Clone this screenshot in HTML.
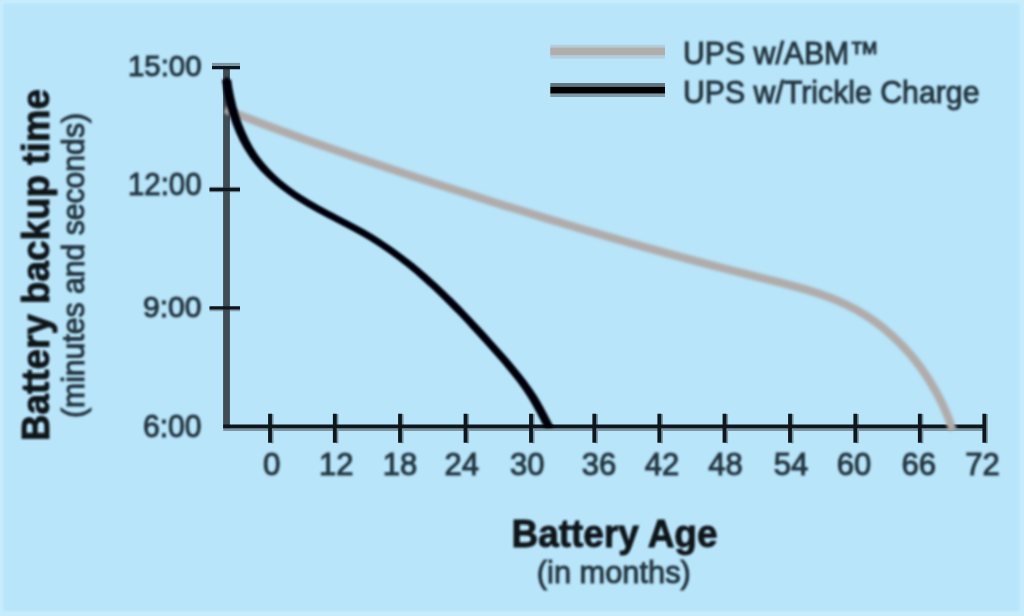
<!DOCTYPE html>
<html lang="en">
<head>
<meta charset="utf-8">
<title>Battery backup time vs Battery Age</title>
<style>
  html, body { margin: 0; padding: 0; background: #b8e5fa; }
  body { width: 1024px; height: 616px; overflow: hidden; position: relative; }
  svg { display: block; position: absolute; left: 0; top: 0; }
  text { font-family: "Liberation Sans", Arial, Helvetica, sans-serif; }
  .lbl { font-size: 32px; fill: #25353f; stroke: #25353f; stroke-width: 1px; }
  .bold { font-weight: bold; font-size: 38px; fill: #0d1216; stroke: #0d1216; stroke-width: 0.8px; }
</style>
</head>
<body>
<svg width="1024" height="616" viewBox="0 0 1024 616">
  <defs>
    <filter id="soft" x="-5%" y="-5%" width="110%" height="110%">
      <feGaussianBlur stdDeviation="1"/>
    </filter>
    <filter id="softer" x="-5%" y="-5%" width="110%" height="110%">
      <feGaussianBlur stdDeviation="1.7"/>
    </filter>
    <clipPath id="plot"><rect x="200" y="60" width="800" height="367.5"/></clipPath>
    <filter id="edge" x="-2%" y="-2%" width="104%" height="104%">
      <feGaussianBlur stdDeviation="1.1"/>
    </filter>
    <filter id="crisp" x="-5%" y="-5%" width="110%" height="110%">
      <feGaussianBlur stdDeviation="0.55"/>
    </filter>
  </defs>
  <rect x="0" y="0" width="1024" height="616" fill="#c7edfd"/>
  <rect x="3.4" y="3.5" width="1016.2" height="607.8" fill="#b8e5fa" filter="url(#edge)"/>
  <g filter="url(#crisp)">
    <!-- axes -->
    <g fill="none" stroke="#7d95a2">
      <path d="M223.2,429.6 H986" stroke-width="3"/>
      <path d="M212,64.4 H240" stroke-width="3"/>
      <path d="M209.5,189.5 H240" stroke-width="5.6" stroke="#8aa2af"/>
      <path d="M209.5,309.6 H240" stroke-width="3.4" stroke="#8aa2af"/>
      <path d="M272.4,414 V443.2 M337.2,414 V443.2 M402.4,414 V443.2 M467.9,414 V443.2 M533.4,414 V443.2 M596.7,414 V443.2 M661.7,414 V443.2 M726.9,414 V443.2 M792.4,414 V443.2 M857.7,414 V443.2 M922.2,414 V443.2 M986.7,414 V443.2" stroke-width="2.4" stroke="#7d95a2"/>
    </g>
    <path d="M226.5,66 V428.2" stroke="#3f4b52" stroke-width="6.8" fill="none"/>
    <g stroke="#10151a" fill="none">
      <path d="M223.2,426.4 H986" stroke-width="3.6"/>
      <path d="M212,67.6 H240 M209.5,189.5 H240 M209.5,307.9 H240" stroke-width="3.4"/>
      <path d="M270,413.8 V442.8 M334.8,413.8 V442.8 M400,413.8 V442.8 M465.5,413.8 V442.8 M531,413.8 V442.8 M594.3,413.8 V442.8 M659.3,413.8 V442.8 M724.5,413.8 V442.8 M790,413.8 V442.8 M855.3,413.8 V442.8 M919.8,413.8 V442.8 M984.3,413.8 V442.8" stroke-width="3.8"/>
    </g>
    <!-- legend swatches -->
    <rect x="550.3" y="44.8" width="114.7" height="13.8" fill="#b4cddb"/>
    <rect x="550.3" y="47.6" width="114.7" height="7.6" fill="#afaeaa"/>
    <rect x="550.3" y="83" width="114.7" height="4.3" fill="#5e7580"/>
    <rect x="550.3" y="93.2" width="114.7" height="3.8" fill="#7f9aa4"/>
    <rect x="550.3" y="86.9" width="114.7" height="6.6" fill="#020306"/>
  </g>
  <g filter="url(#softer)">
    <!-- series: UPS w/ABM -->
    <path id="abm" fill="none" stroke="#b0acaa" stroke-width="8.2" stroke-linecap="butt" stroke-linejoin="round"
      d="M225.3,109.2 C234.1,112.8 242.8,116.2 251.6,119.6 C260.4,123.0 269.2,126.4 278.0,129.6 C286.8,132.9 295.7,136.1 304.5,139.3 C313.4,142.5 322.3,145.6 331.2,148.7 C340.0,151.8 349.0,154.9 357.9,157.9 C366.8,160.9 375.7,163.9 384.7,166.9 C393.6,169.9 402.6,172.8 411.6,175.8 C420.5,178.7 429.5,181.7 438.5,184.6 C447.5,187.5 456.5,190.4 465.5,193.2 C474.5,196.1 483.5,199.0 492.5,201.8 C501.5,204.6 510.5,207.4 519.6,210.2 C528.6,213.0 537.6,215.8 546.7,218.5 C555.7,221.2 564.7,223.9 573.8,226.6 C582.8,229.3 591.9,232.0 600.9,234.6 C609.9,237.2 619.0,239.8 628.0,242.4 C637.1,245.0 646.1,247.5 655.2,250.0 C664.2,252.5 673.3,255.0 682.4,257.5 C691.5,259.9 700.6,262.3 709.7,264.7 C718.8,267.1 728.0,269.5 737.2,271.8 C746.4,274.1 755.6,276.4 764.8,278.7 C774.1,281.0 783.4,283.3 792.5,285.7 C801.7,288.2 810.8,290.9 819.7,293.9 C828.7,297.0 837.4,300.4 845.8,304.4 C854.2,308.4 862.4,313.0 870.1,318.2 C877.9,323.5 885.2,329.3 892.2,335.7 C899.2,342.0 905.7,348.9 911.8,356.2 C917.9,363.5 923.5,371.2 928.6,379.2 C933.7,387.2 938.3,395.5 942.4,404.1 C946.4,412.6 949.9,421.4 952.8,430.3"/>
  </g>
  <g filter="url(#soft)">
    <!-- series: UPS w/Trickle Charge -->
    <g fill="none" stroke="#050608" stroke-width="3.2" stroke-linecap="butt" stroke-linejoin="round" clip-path="url(#plot)">
      <path id="trickle" d="M226.6,79.6 C227.3,85.4 228.3,91.3 229.6,97.2 C230.8,103.1 232.3,109.0 234.2,114.9 C236.0,120.7 238.1,126.4 240.5,132.0 C242.9,137.6 245.6,143.0 248.7,148.2 C251.8,153.4 255.2,158.4 259.0,163.0 C262.7,167.7 266.8,172.0 271.2,176.2 C275.5,180.3 280.2,184.2 285.0,187.8 C289.8,191.5 294.8,195.0 299.9,198.2 C305.1,201.5 310.3,204.6 315.6,207.5 C320.9,210.5 326.3,213.3 331.6,216.1 C337.0,218.9 342.4,221.6 347.7,224.4 C353.1,227.2 358.4,230.1 363.6,233.1 C368.9,236.1 374.0,239.2 379.0,242.5 C384.1,245.7 389.0,249.1 393.9,252.7 C398.8,256.2 403.5,259.9 408.3,263.6 C413.0,267.4 417.6,271.3 422.2,275.2 C426.7,279.2 431.2,283.3 435.7,287.4 C440.1,291.6 444.5,295.8 448.8,300.0 C453.1,304.3 457.4,308.7 461.6,313.0 C465.8,317.4 470.0,321.8 474.1,326.3 C478.2,330.8 482.3,335.2 486.3,339.7 C490.4,344.2 494.4,348.7 498.4,353.3 C502.4,357.8 506.4,362.3 510.2,366.9 C514.1,371.5 517.8,376.1 521.4,380.9 C525.0,385.7 528.5,390.6 531.7,395.7 C535.0,400.8 537.9,406.1 540.8,411.5 C543.7,416.9 546.5,422.4 549.3,427.7"/>
      <use href="#trickle" x="-3"/><use href="#trickle" x="-1.5"/><use href="#trickle" x="1.5"/><use href="#trickle" x="3"/>
      <use href="#trickle" y="-2.1"/><use href="#trickle" y="-1.05"/><use href="#trickle" y="1.05"/><use href="#trickle" y="2.1"/>
    </g>
    <!-- legend labels -->
    <text class="lbl" x="683" y="64.4" textLength="196.5" lengthAdjust="spacingAndGlyphs">UPS w/ABM™</text>
    <text class="lbl" x="683" y="102.5" textLength="296.5" lengthAdjust="spacingAndGlyphs">UPS w/Trickle Charge</text>
    <!-- y labels -->
    <g class="lbl" text-anchor="end">
      <text x="201.6" y="76.3" font-size="30" textLength="73.7" lengthAdjust="spacingAndGlyphs">15:00</text>
      <text x="201.6" y="195" font-size="31.5" textLength="73.7" lengthAdjust="spacingAndGlyphs">12:00</text>
      <text x="201.6" y="317" font-size="30" textLength="58.7" lengthAdjust="spacingAndGlyphs">9:00</text>
      <text x="201.6" y="437.3" font-size="31.5" textLength="58.7" lengthAdjust="spacingAndGlyphs">6:00</text>
    </g>
    <!-- x labels -->
    <g class="lbl" text-anchor="middle">
      <text x="271.7" y="475" textLength="17.5" lengthAdjust="spacingAndGlyphs">0</text>
      <text x="336.2" y="475" textLength="34.5" lengthAdjust="spacingAndGlyphs">12</text>
      <text x="400" y="475" textLength="34.5" lengthAdjust="spacingAndGlyphs">18</text>
      <text x="461.8" y="475" textLength="34.5" lengthAdjust="spacingAndGlyphs">24</text>
      <text x="527.3" y="475" textLength="34.5" lengthAdjust="spacingAndGlyphs">30</text>
      <text x="599" y="475" textLength="34.5" lengthAdjust="spacingAndGlyphs">36</text>
      <text x="661.9" y="475" textLength="34.5" lengthAdjust="spacingAndGlyphs">42</text>
      <text x="725.4" y="475" textLength="34.5" lengthAdjust="spacingAndGlyphs">48</text>
      <text x="791.1" y="475" textLength="34.5" lengthAdjust="spacingAndGlyphs">54</text>
      <text x="854" y="475" textLength="34.5" lengthAdjust="spacingAndGlyphs">60</text>
      <text x="918.7" y="475" textLength="34.5" lengthAdjust="spacingAndGlyphs">66</text>
      <text x="982.4" y="475" textLength="34.5" lengthAdjust="spacingAndGlyphs">72</text>
    </g>
    <!-- axis titles -->
    <text class="bold" x="614.5" y="547" text-anchor="middle" textLength="206" lengthAdjust="spacingAndGlyphs">Battery Age</text>
    <text class="lbl" x="613.8" y="583" text-anchor="middle" textLength="154" lengthAdjust="spacingAndGlyphs">(in months)</text>
    <text class="bold" transform="translate(49,441) rotate(-90)" textLength="352" lengthAdjust="spacingAndGlyphs">Battery backup time</text>
    <text class="lbl" transform="translate(84,418) rotate(-90)" textLength="305" lengthAdjust="spacingAndGlyphs">(minutes and seconds)</text>
  </g>
</svg>
</body>
</html>
